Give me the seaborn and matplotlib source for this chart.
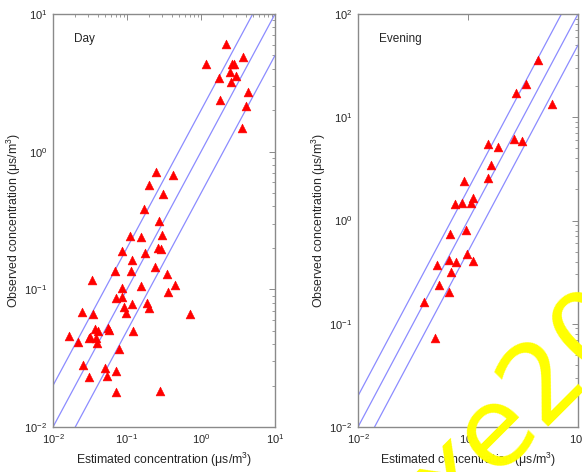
import numpy as np
import pandas as pd
import seaborn as sns
import matplotlib
matplotlib.use("Agg")
import matplotlib.pyplot as plt
from matplotlib.ticker import LogLocator, NullFormatter, NullLocator, FixedLocator

# ---------------- data ----------------
day_est = [1.17, 2.15, 3.73, 2.60, 2.75, 1.77, 2.44, 3.00, 2.52, 4.32, 1.79, 4.05, 3.55,
           0.249, 0.414, 0.196, 0.303, 0.171, 0.268, 0.111, 0.153, 0.297,
           0.0855, 0.175, 0.259, 0.285, 0.116, 0.0695, 0.113, 0.237, 0.351,
           0.0337, 0.0847, 0.156, 0.44, 0.355, 0.0703, 0.0848, 0.118, 0.189,
           0.198, 0.092, 0.097, 0.0248, 0.0347, 0.703, 0.0166, 0.0216, 0.0305,
           0.032, 0.0366, 0.0403, 0.0385, 0.0393, 0.0553, 0.0571, 0.1205, 0.078,
           0.0254, 0.05, 0.0306, 0.0537, 0.072, 0.072, 0.278]
day_obs = [4.3, 6.1, 4.84, 4.35, 4.3, 3.43, 3.77, 3.53, 3.19, 2.73, 2.36, 2.15, 1.49,
           0.708, 0.68, 0.575, 0.49, 0.386, 0.315, 0.243, 0.239, 0.247,
           0.191, 0.183, 0.198, 0.195, 0.164, 0.135, 0.135, 0.145, 0.129,
           0.117, 0.103, 0.105, 0.108, 0.095, 0.086, 0.0875, 0.078, 0.079,
           0.073, 0.075, 0.067, 0.069, 0.066, 0.066, 0.046, 0.0412, 0.044,
           0.0452, 0.0511, 0.0495, 0.044, 0.0405, 0.052, 0.051, 0.0495, 0.0367,
           0.0284, 0.027, 0.0229, 0.0235, 0.0255, 0.018, 0.0182]

eve_est = [19.0, 11.2, 7.36, 33.2, 6.76, 9.59, 2.34, 3.46, 2.58, 2.34, 0.834, 1.23,
           1.12, 0.767, 0.58, 0.92, 0.477, 0.96, 0.458, 0.605, 1.22, 0.277, 0.491,
           0.297, 0.452, 0.156, 0.248]
eve_obs = [35.9, 21.0, 17.3, 13.5, 6.17, 5.94, 5.52, 5.2, 3.46, 2.57, 2.44, 1.66,
           1.49, 1.49, 1.43, 0.805, 0.743, 0.472, 0.416, 0.398, 0.404, 0.37, 0.314,
           0.238, 0.204, 0.162, 0.0732]

ratios = [2.0, 1.0, 0.5]          # reference lines obs = ratio * est
panel_titles = ["Day", "Evening"]
x_limits = [(1e-2, 1e1), (1e-2, 1e2)]
y_limits = [(1e-2, 1e1), (1e-2, 1e2)]
eve_xticks = [1e-2, 1e0, 1e2]
xlabel = "Estimated concentration (\u03bcs/m$^3$)"
ylabel = "Observed concentration (\u03bcs/m$^3$)"

# ---------------- style ----------------
sns.set_style("white")
plt.rcParams['font.family'] = ['Liberation Sans', 'DejaVu Sans']
plt.rcParams['mathtext.fontset'] = 'custom'
plt.rcParams['mathtext.rm'] = 'Liberation Sans'

fig = plt.figure(figsize=(5.82, 4.72), dpi=100)
ax1 = fig.add_axes([53 / 582, 45 / 472, 222 / 582, 413 / 472])
ax2 = fig.add_axes([358 / 582, 45 / 472, 220 / 582, 413 / 472])

frames = [pd.DataFrame({"est": day_est, "obs": day_obs}),
          pd.DataFrame({"est": eve_est, "obs": eve_obs})]

spine_col = "#8a8a8a"
line_col = "#8c8cff"

for ax, df, title, xl, yl in zip([ax1, ax2], frames, panel_titles, x_limits, y_limits):
    ax.set_xscale("log")
    ax.set_yscale("log")
    xs = np.logspace(np.log10(xl[0]), np.log10(xl[1]), 50)
    for r in ratios:
        ax.plot(xs, r * xs, color=line_col, lw=0.9, zorder=1)
    sns.scatterplot(data=df, x="est", y="obs", marker="^", color="red",
                    s=40, edgecolor="red", linewidth=0.4, ax=ax, zorder=3)
    ax.set_xlim(*xl)
    ax.set_ylim(*yl)
    ax.set_xlabel(xlabel, fontsize=8.8, labelpad=3)
    ax.set_ylabel(ylabel, fontsize=8.8, labelpad=1)
    ax.text(0.095, 0.955, title, transform=ax.transAxes, fontsize=8.5,
            ha="left", va="top")
    ax.xaxis.set_major_locator(LogLocator(base=10, numticks=10))
    ax.yaxis.set_major_locator(LogLocator(base=10, numticks=10))
    ax.xaxis.set_minor_locator(LogLocator(base=10, subs=np.arange(2, 10), numticks=20))
    ax.yaxis.set_minor_locator(LogLocator(base=10, subs=np.arange(2, 10), numticks=20))
    ax.xaxis.set_minor_formatter(NullFormatter())
    ax.yaxis.set_minor_formatter(NullFormatter())
    ax.tick_params(which="both", direction="in", top=True, right=True,
                   color=spine_col, labelsize=8, pad=4)
    ax.tick_params(which="major", length=4, width=0.7)
    ax.tick_params(which="minor", length=2, width=0.6)
    for sp in ax.spines.values():
        sp.set_color(spine_col)
        sp.set_linewidth(1.0)

# evening x axis: only every second decade, no minor ticks
ax2.xaxis.set_major_locator(FixedLocator(eve_xticks))
ax2.xaxis.set_minor_locator(NullLocator())

# watermark-like yellow text seen in the reference
fig.text(0.773, -0.106, "xe20", rotation=45, rotation_mode="anchor",
         fontsize=80, family="DejaVu Sans", color="#ffff00",
         ha="left", va="baseline", zorder=10)

fig.savefig("out.png", dpi=100)
